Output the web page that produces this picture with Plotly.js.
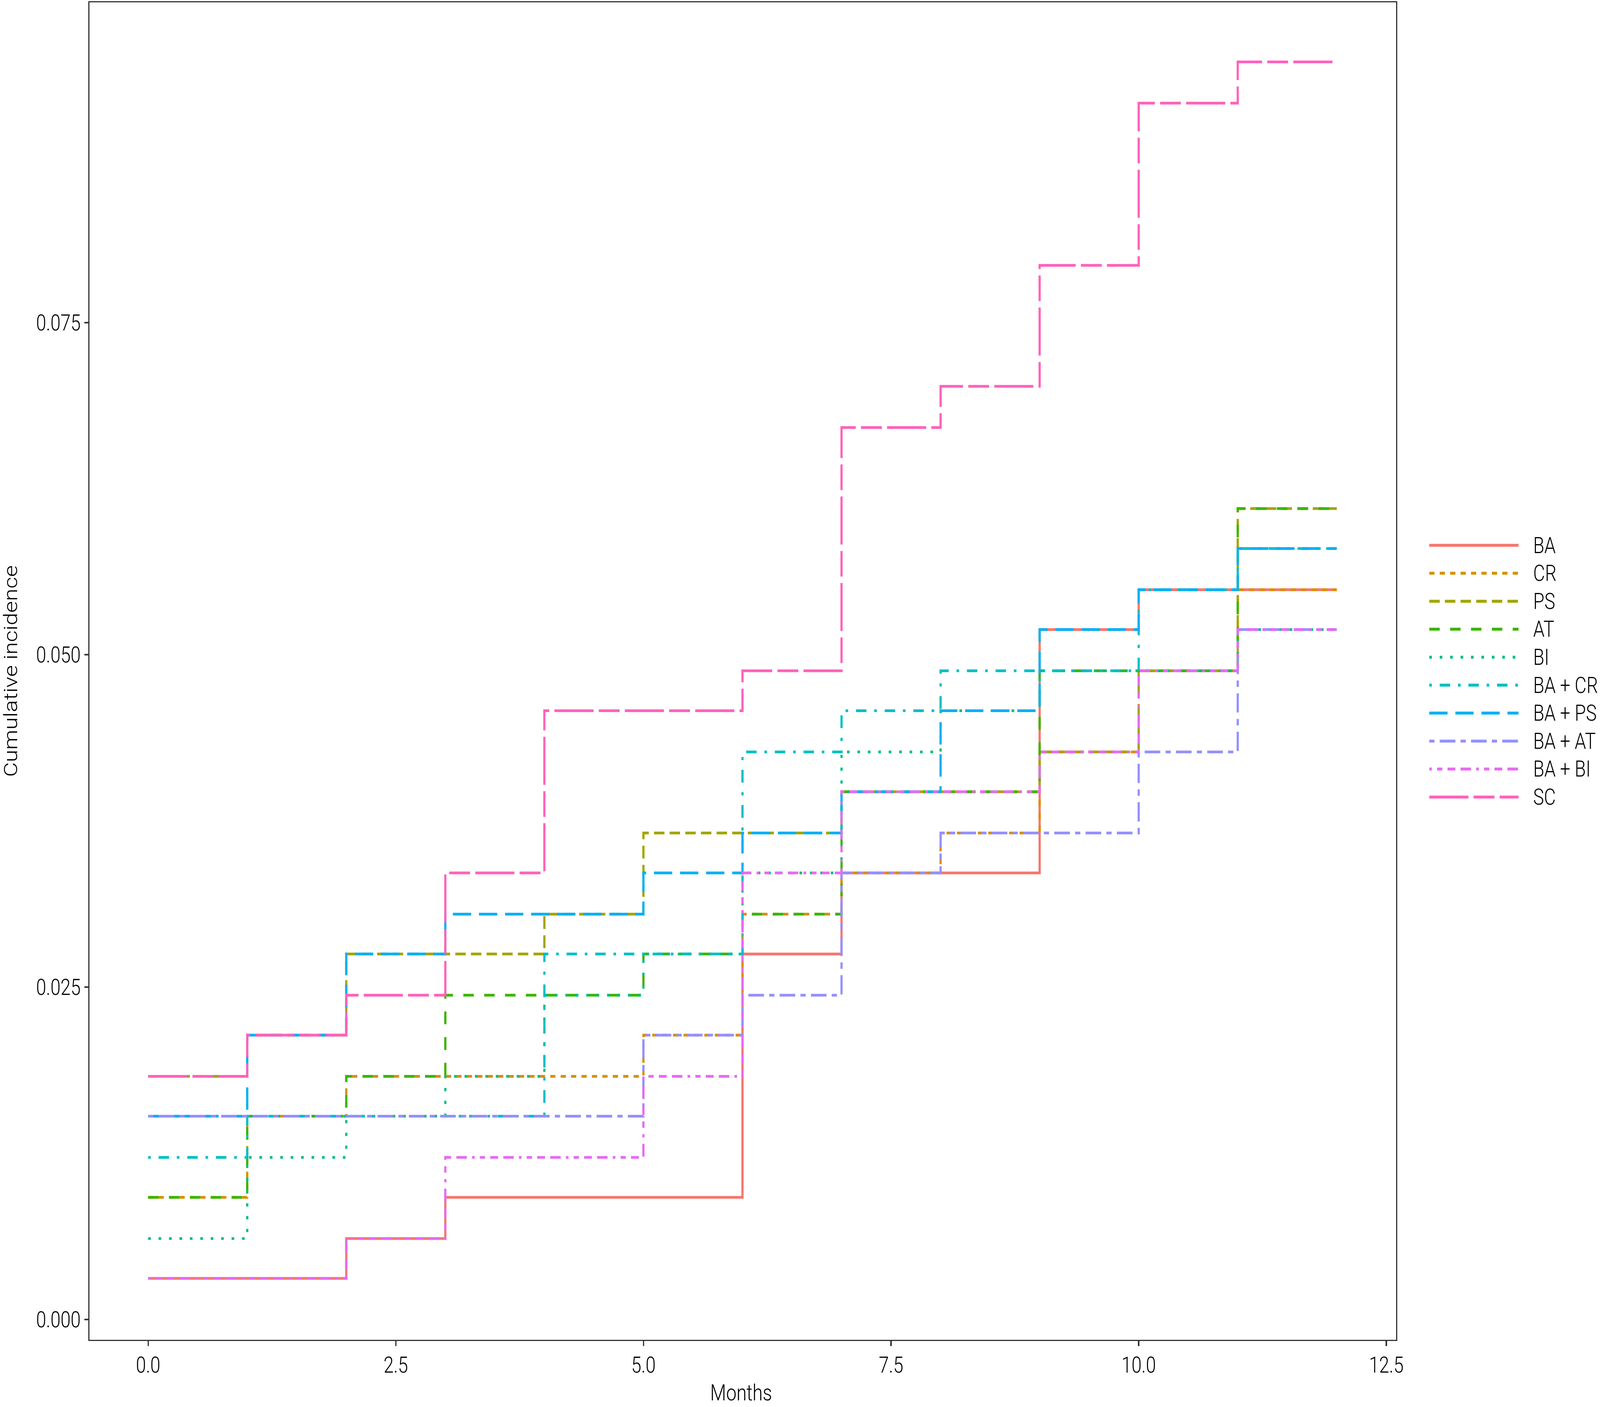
<!DOCTYPE html>
<html><head><meta charset="utf-8">
<script src="https://cdn.plot.ly/plotly-3.0.1.min.js"></script>
<style>html,body{margin:0;padding:0;background:#fff;overflow:hidden}#chart{transform-origin:0 0}</style>
</head><body>
<div id="chart" style="width:5033px;height:3602px"></div>
<script>
// ---- data (cumulative incidence at start of each month interval 0..11) ----
const months = [0,1,2,3,4,5,6,7,8,9,10,11,12];
const seriesNames = ["BA","CR","PS","AT","BI","BA + CR","BA + PS","BA + AT","BA + BI","SC"];
const BA    = [0.0031,0.0031,0.0061,0.0092,0.0092,0.0092,0.0275,0.0336,0.0336,0.0519,0.0549,0.0549];
const CR    = [0.0092,0.0153,0.0183,0.0183,0.0183,0.0214,0.0305,0.0336,0.0366,0.0427,0.0488,0.0549];
const PS    = [0.0183,0.0214,0.0275,0.0275,0.0305,0.0366,0.0366,0.0397,0.0397,0.0427,0.0488,0.0610];
const AT    = [0.0092,0.0153,0.0183,0.0244,0.0244,0.0275,0.0305,0.0397,0.0397,0.0488,0.0488,0.0610];
const BI    = [0.0061,0.0122,0.0153,0.0183,0.0244,0.0275,0.0336,0.0427,0.0458,0.0488,0.0488,0.0519];
const BA_CR = [0.0122,0.0153,0.0153,0.0153,0.0275,0.0275,0.0427,0.0458,0.0488,0.0488,0.0549,0.0580];
const BA_PS = [0.0153,0.0214,0.0275,0.0305,0.0305,0.0336,0.0366,0.0397,0.0458,0.0519,0.0549,0.0580];
const BA_AT = [0.0153,0.0153,0.0153,0.0153,0.0153,0.0214,0.0244,0.0336,0.0366,0.0366,0.0427,0.0519];
const BA_BI = [0.0031,0.0031,0.0061,0.0122,0.0122,0.0183,0.0336,0.0397,0.0397,0.0427,0.0488,0.0519];
const SC    = [0.0183,0.0214,0.0244,0.0336,0.0458,0.0458,0.0488,0.0671,0.0702,0.0793,0.0915,0.0946];
const xTickVals = [0,2.5,5,7.5,10,12.5];
const xTickText = ["0.0","2.5","5.0","7.5","10.0","12.5"];
const yTickVals = [0,0.025,0.05,0.075];
const yTickText = ["0.000","0.025","0.050","0.075"];
const xTitle = "Months";
const yTitle = "Cumulative incidence";

// ---- sizing: the chart is laid out at 5033x3602 and fitted to the actual viewport ----
const RW = 5033, RH = 3602;
const vw = window.innerWidth || RW, vh = window.innerHeight || RH;
document.getElementById("chart").style.transform = "scale(" + (vw/RW) + "," + (vh/RH) + ")";

// ---- styles ----
const seriesValues = [BA,CR,PS,AT,BI,BA_CR,BA_PS,BA_AT,BA_BI,SC];
const colors = ["#F8766D","#D89000","#A3A500","#39B600","#00BF7D","#00BFC4","#00B0F6","#9590FF","#E76BF3","#FF62BC"];
const u = 8.2;
function dash(codes){ if(!codes) return "solid"; return codes.map(c=> (c*u).toFixed(1)+"px").join(","); }
const dashes = [null,[2,2],[4,2],[4,4],[1,3],[1,3,4,3],[7,3],[2,2,6,2],[1,2,2,2,3,2,4,2],[15,2,8,2]].map(dash);
const FONT = "Roboto, Lato, 'Open Sans', sans-serif";
const LW = 7;

const traces = [];
seriesValues.forEach((vals,i)=>{
  traces.push({
    x: months, y: vals.concat([vals[vals.length-1]]),
    type:"scatter", mode:"lines", name: seriesNames[i],
    line:{shape:"hv", color:colors[i], width:LW, dash:dashes[i]},
    hoverinfo:"skip", showlegend:false, xaxis:"x", yaxis:"y"
  });
});

const L = 281, T = 6, B = 172, PR = 4392, PB = 3430;
const PW = RW - L;
const xEnd = (PR - L)/PW;
const rowTop = 1396, rowStep = 71.6;

const annotations = [];
seriesNames.forEach((nm,i)=>{
  traces.push({
    x:[0,1], y:[i,i], type:"scatter", mode:"lines",
    line:{color:colors[i], width:7.5, dash:dashes[i]},
    hoverinfo:"skip", showlegend:false, xaxis:"x2", yaxis:"y2"
  });
  annotations.push({xref:"x2", yref:"y2", x:1, y:i, xshift:44, xanchor:"left", yanchor:"middle",
    text:nm, showarrow:false, font:{family:FONT, size:57, weight:300, color:"#000"}});
});

annotations.push({xref:"paper", yref:"paper", x:(2331-L)/PW, y:0, yshift:-(3565-PB), xanchor:"center", yanchor:"middle",
  text:xTitle, showarrow:false, font:{family:FONT, size:58, weight:300, color:"#000"}});
annotations.push({xref:"paper", yref:"paper", x:(34-L)/PW, y:0.5, xanchor:"center", yanchor:"middle", textangle:-90,
  text:yTitle, showarrow:false, font:{family:FONT, size:58, weight:300, color:"#000"}});

const axisCommon = {showgrid:false, zeroline:false, showline:true, mirror:true, linecolor:"#333", linewidth:3,
  ticks:"outside", ticklen:13, tickwidth:4, tickcolor:"#333",
  tickfont:{family:FONT, size:57, weight:300, color:"#000"}};
const layout = {
  width:RW, height:RH,
  margin:{l:L, r:0, t:T, b:B, pad:0},
  paper_bgcolor:"#fff", plot_bgcolor:"#fff",
  showlegend:false,
  xaxis:Object.assign({domain:[0,xEnd], range:[-0.594,12.6], tickvals:xTickVals, ticktext:xTickText, anchor:"y"}, axisCommon),
  yaxis:Object.assign({domain:[0,1], range:[-0.00152,0.09908], tickvals:yTickVals, ticktext:yTickText, anchor:"x"}, axisCommon),
  xaxis2:{domain:[(4496-L)/PW,(4777-L)/PW], range:[0,1], visible:false, anchor:"y2", fixedrange:true},
  yaxis2:{domain:[0,1], range:[(PB-rowTop)/rowStep, (T-rowTop)/rowStep], visible:false, anchor:"x2", fixedrange:true},
  annotations: annotations
};
Plotly.newPlot("chart", traces, layout, {staticPlot:true, displayModeBar:false});
</script>
</body></html>
